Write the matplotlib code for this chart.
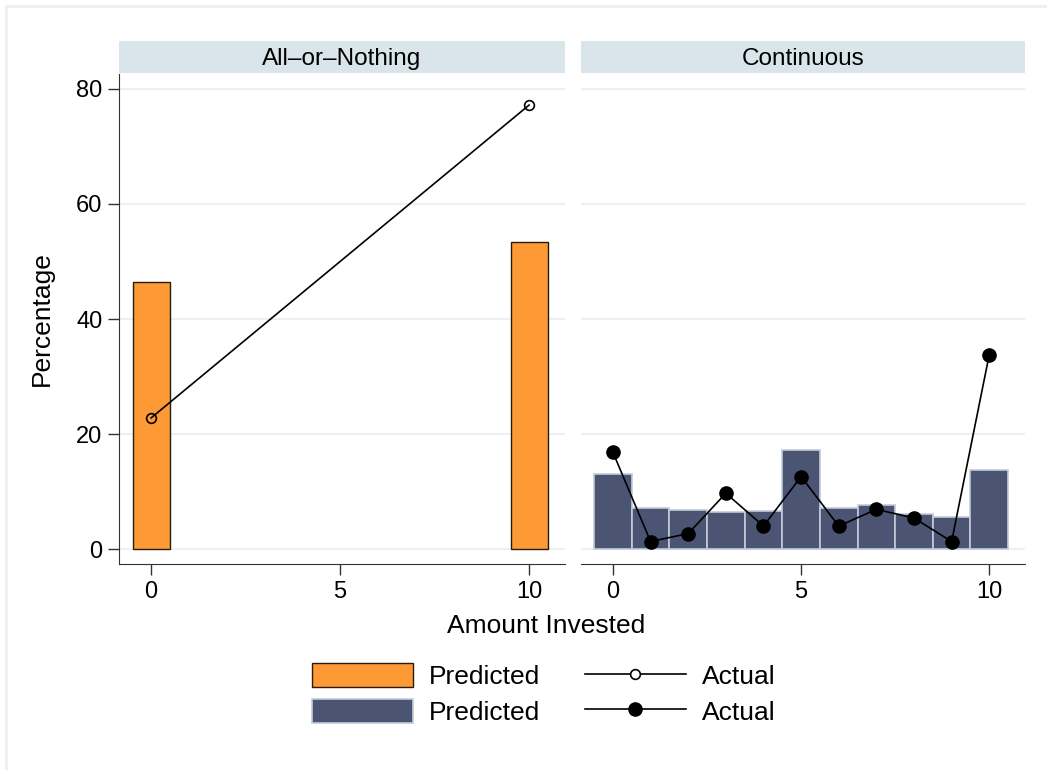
import numpy as np
import matplotlib.pyplot as plt
from matplotlib.patches import Patch
from matplotlib.lines import Line2D

plt.rcParams['font.family'] = ['Liberation Sans', 'DejaVu Sans']

# all-or-nothing treatment
aon_x = [0, 10]
aon_pred = [46.4, 53.4]
aon_act = [22.8, 77.2]

# continuous treatment
cont_x = list(range(11))
cont_pred = [13.0, 7.1, 6.8, 6.4, 6.7, 17.2, 7.1, 7.7, 6.1, 5.5, 13.7]
cont_act = [16.8, 1.3, 2.7, 9.7, 4.0, 12.6, 4.0, 6.9, 5.4, 1.3, 33.8]

panels = ["All\u2013or\u2013Nothing", "Continuous"]
yticks = [0, 20, 40, 60, 80]
xticks = [0, 5, 10]

orange = '#fd9a36'
navy = '#4b5573'
grid_c = '#eaf1f3'
strip_c = '#d9e5ea'

W, H = 1047, 770
fig = plt.figure(figsize=(W / 100, H / 100), dpi=100)

# light outer frame
fig.add_artist(Line2D([6 / W, 6 / W], [0, 1 - 6 / H], color=grid_c, lw=2))
fig.add_artist(Line2D([6 / W, 1], [1 - 6 / H, 1 - 6 / H], color=grid_c, lw=2))

def px_axes(x0, y0, x1, y1):
    return fig.add_axes([x0 / W, 1 - y1 / H, (x1 - x0) / W, (y1 - y0) / H])

ax1 = px_axes(119, 74, 565, 564)
ax2 = px_axes(581, 74, 1025, 564)

for ax in (ax1, ax2):
    ax.set_xlim(-0.85, 10.95)
    ax.set_ylim(-2.6, 82.6)
    ax.set_yticks(yticks)
    ax.set_xticks(xticks)
    for y in yticks:
        ax.axhline(y, color=grid_c, lw=1.5, zorder=0)
    for s in ('top', 'right'):
        ax.spines[s].set_visible(False)
    ax.spines['bottom'].set_color('#333333')
    ax.spines['left'].set_color('#333333')
    ax.tick_params(labelsize=17, length=8, width=1, color='#333333', pad=4)

ax1.bar(aon_x, aon_pred, width=0.98, color=orange, edgecolor='#2a1a08', lw=1.0, zorder=2)
ax1.plot(aon_x, aon_act, color='black', lw=1.2, marker='o', markersize=7,
         markerfacecolor='none', markeredgecolor='black', markeredgewidth=1.2, zorder=3)

ax2.bar(cont_x, cont_pred, width=1.0, color=navy, edgecolor='#c3cbd8', lw=1.2, zorder=2)
ax2.plot(cont_x, cont_act, color='black', lw=1.2, marker='o', markersize=9.5,
         markerfacecolor='black', zorder=3)
ax2.spines['left'].set_visible(False)
ax2.tick_params(axis='y', left=False, labelleft=False)

ax1.set_ylabel('Percentage', fontsize=19)
ax1.yaxis.set_label_coords(-0.147, 0.5)

# panel strips
for (x0, x1), name in zip([(119, 565), (581, 1025)], panels):
    s = px_axes(x0, 41, x1, 73)
    s.set_facecolor(strip_c)
    s.set_xticks([])
    s.set_yticks([])
    for sp in s.spines.values():
        sp.set_visible(False)
    s.text(0.5, 0.45, name, ha='center', va='center', fontsize=17.5, transform=s.transAxes)

fig.text(546 / W, 1 - 626 / H, 'Amount Invested', ha='center', va='center', fontsize=19)

handles = [
    Patch(facecolor=orange, edgecolor='#2a1a08', lw=1.0),
    Patch(facecolor=navy, edgecolor='#c3cbd8', lw=1.2),
    Line2D([], [], color='black', lw=1.2, marker='o', markersize=7,
           markerfacecolor='white', markeredgewidth=1.2),
    Line2D([], [], color='black', lw=1.2, marker='o', markersize=9.5,
           markerfacecolor='black'),
]
labels = ['Predicted', 'Predicted', 'Actual', 'Actual']
fig.legend(handles, labels, ncol=2, loc='center', bbox_to_anchor=(544 / W, 1 - 694 / H),
           frameon=False, fontsize=19, handlelength=3.8, handleheight=1.0,
           handletextpad=0.62, columnspacing=1.7, labelspacing=0.38)

fig.savefig('out.png', dpi=100, facecolor='white')
